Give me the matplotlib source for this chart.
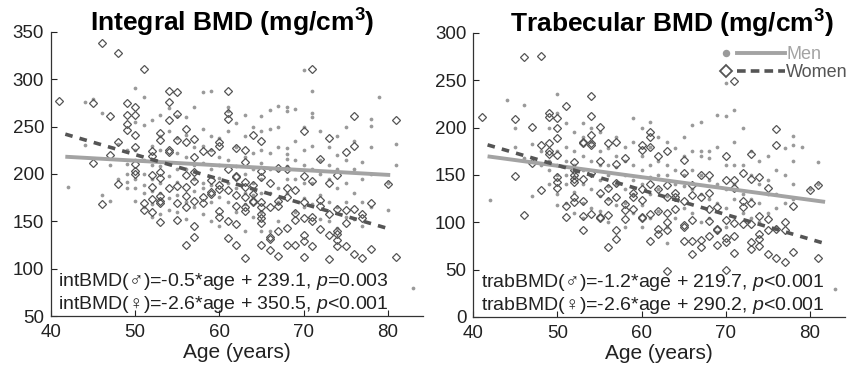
import matplotlib
matplotlib.use("Agg")
import matplotlib.pyplot as plt
from matplotlib.legend_handler import HandlerBase
from matplotlib.lines import Line2D
import numpy as np

# ---- data (age -> BMD values) ----
men_int = {42: [186], 44: [276, 231], 45: [279], 46: [264, 178], 47: [210, 172], 48: [232, 195],
           49: [211, 200, 192, 185, 225], 50: [291, 255, 225, 215, 195, 185, 172],
           51: [281, 252, 215, 200, 188, 180, 165], 52: [257, 230, 210, 195, 182, 168, 155],
           53: [262, 240, 225, 208, 190, 180, 158], 54: [270, 245, 212, 198, 175, 162],
           55: [261, 238, 222, 205, 192, 178, 160], 56: [260, 241, 218, 205, 170, 152],
           57: [271, 228, 210, 195, 182, 165], 58: [287, 248, 230, 212, 190, 185, 158],
           59: [288, 240, 225, 205, 188, 170, 150], 60: [238, 218, 210, 196, 176, 145],
           61: [267, 271, 245, 215, 190, 170], 62: [254, 228, 208, 185, 160],
           63: [262, 240, 218, 200, 180, 168, 140], 64: [250, 222, 205, 190, 178, 155],
           65: [261, 245, 225, 212, 195, 180, 160, 140], 66: [268, 248, 222, 205, 180, 140],
           67: [272, 250, 228, 205, 185, 170, 150], 68: [271, 267, 227, 221, 216, 208, 195, 180],
           69: [269, 235, 215, 195, 160], 70: [310, 250, 225, 210, 190, 175, 165],
           71: [288, 264, 260, 230, 205, 190, 168], 72: [245, 215, 200, 178, 152],
           73: [228, 210, 195, 170, 150], 74: [240, 220, 205, 185, 165, 143],
           75: [250, 215, 190, 170, 155], 76: [235, 205, 180, 152], 77: [213, 195, 170, 145],
           78: [258, 251, 228, 200, 165], 79: [281], 80: [190, 162], 81: [232, 210], 83: [80]}

women_int = {41: [277], 45: [275, 212], 46: [338, 168], 47: [261, 220], 48: [328, 234, 189],
             49: [275, 262, 253, 247], 50: [271, 262, 241, 228, 211, 203, 200], 51: [311, 169, 162],
             52: [224, 219, 199, 186, 174, 160], 53: [243, 236, 202, 196, 177, 172, 169, 149],
             54: [288, 276, 257, 225, 223, 185], 55: [287, 263, 236, 187, 169, 151],
             56: [248, 234, 199, 186, 177, 165, 125], 57: [237, 218, 202, 193, 172, 145, 133],
             58: [224, 176, 169], 59: [223, 194, 181, 179], 60: [234, 230, 188, 184, 161, 155],
             61: [288, 264, 258, 205, 183, 150, 132], 62: [227, 198, 197, 178, 166, 147, 125],
             63: [225, 213, 192, 186, 176, 165, 161, 111], 64: [241, 188, 179, 172, 170],
             65: [235, 203, 197, 170, 165, 158, 153, 148, 125], 66: [190, 165, 133, 131, 120],
             67: [206, 172, 166, 140, 113], 68: [205, 185, 176, 143, 125], 69: [183, 159, 151, 125],
             70: [245, 198, 170, 153, 136, 129, 112], 71: [311, 193, 155, 150, 124],
             72: [216, 173, 166, 142], 73: [238, 190, 158, 136, 110],
             74: [199, 163, 140, 137, 130, 124], 75: [223, 162, 148, 124], 76: [261, 230, 163, 115],
             77: [158, 153, 111], 78: [169, 121], 80: [189], 81: [257, 112]}

men_trab = {42: [124], 44: [229], 45: [200, 180], 46: [224, 168], 47: [183, 128], 48: [175, 160],
            49: [200, 165, 155, 140], 50: [236, 215, 175, 160, 150, 130, 118],
            51: [205, 180, 165, 150, 140, 120], 52: [195, 175, 160, 148, 132, 110],
            53: [205, 190, 170, 155, 140, 120, 105], 54: [200, 185, 165, 150, 135, 115],
            55: [195, 175, 160, 145, 128, 112], 56: [178, 160, 150, 138, 125, 100],
            57: [190, 170, 158, 140, 118], 58: [180, 165, 150, 135, 120, 95],
            59: [210, 185, 160, 145, 130, 110], 60: [200, 170, 155, 140, 118, 95],
            61: [206, 180, 160, 148, 130, 105], 62: [190, 165, 150, 135, 112],
            63: [185, 160, 150, 128, 95, 78], 64: [178, 155, 140, 125, 105],
            65: [190, 170, 150, 138, 115], 66: [203, 175, 155, 135, 110],
            67: [206, 175, 170, 150, 130, 100], 68: [175, 168, 145, 125, 105],
            69: [213, 180, 140, 120, 90], 70: [247, 212, 160, 135, 115, 95],
            71: [219, 185, 160, 140, 125], 72: [200, 160, 130, 110], 73: [175, 150, 125, 105],
            74: [165, 140, 120, 100], 75: [170, 145, 130, 110], 76: [155, 130, 115, 95],
            77: [178, 150, 120], 78: [191, 182, 165, 140, 125], 79: [180], 80: [135],
            81: [164, 140], 83: [30]}

women_trab = {41: [211], 45: [209, 149], 46: [275, 108], 47: [201, 163], 48: [276, 182, 134],
              49: [215, 211, 184, 175, 172], 50: [210, 200, 189, 171, 148, 143, 136],
              51: [223, 117, 106], 52: [164, 155, 150, 146, 143, 127, 121],
              53: [185, 184, 146, 122, 107, 92], 54: [233, 212, 192, 184, 182, 152, 109],
              55: [201, 165, 131, 106, 104], 56: [184, 136, 122, 108, 74],
              57: [185, 162, 141, 127, 92, 82], 58: [168, 119, 113, 103], 59: [131, 127, 114],
              60: [182, 176, 135, 124, 106, 104], 61: [195, 190, 180, 140, 109, 80],
              62: [170, 135, 112, 93, 88], 63: [175, 139, 127, 110, 100, 92, 49],
              64: [131, 127, 114], 65: [166, 152, 122, 97, 95, 80], 66: [139, 129, 102, 80, 66],
              67: [150, 127, 81, 74], 68: [150, 131, 114, 101, 85], 69: [116, 93, 92, 76],
              70: [170, 145, 102, 83, 79, 50], 71: [249, 145, 136, 99, 85, 68],
              72: [152, 122, 116, 98], 73: [172, 146, 120, 98, 79, 72],
              74: [148, 107, 88, 82, 75], 75: [136, 103, 92, 66], 76: [199, 182, 93, 62],
              77: [100, 92, 58], 78: [117, 69], 80: [134], 81: [139, 62]}

# regression coefficients (slope, intercept) from the figure text, and the age span of each fit line
fit_int = {"men": (-0.5, 239.1), "women": (-2.6, 350.5)}
fit_trab = {"men": (-1.2, 219.7), "women": (-2.6, 290.2)}
p_int = {"men": "=0.003", "women": "<0.001"}
p_trab = {"men": "<0.001", "women": "<0.001"}
fit_span_int = [41.7, 80.3]
fit_span_trab = [41.7, 81.8]

MEN_C = "#a3a3a3"
WOMEN_C = "#555555"

plt.rcParams["font.family"] = ["Liberation Sans", "DejaVu Sans"]
plt.rcParams["mathtext.fontset"] = "custom"
plt.rcParams["mathtext.rm"] = "Liberation Sans"
plt.rcParams["mathtext.it"] = "Liberation Sans:italic"
plt.rcParams["mathtext.bf"] = "Liberation Sans:bold"


def flatten(d):
    xs, ys = [], []
    for age, vals in d.items():
        xs += [age] * len(vals)
        ys += vals
    return np.array(xs, float), np.array(ys, float)


class MarkerThenLine(HandlerBase):
    # legend entry: marker on the left, then a short line segment
    def create_artists(self, legend, orig_handle, xdescent, ydescent, width, height, fontsize, trans):
        mk, ln = orig_handle
        y = height / 2 - ydescent
        m = Line2D([-xdescent + 4], [y], linestyle="none", marker=mk.get_marker(),
                   markersize=mk.get_markersize() * 1.5, markerfacecolor=mk.get_markerfacecolor(),
                   markeredgecolor=mk.get_markeredgecolor(), markeredgewidth=1.3)
        l = Line2D([-xdescent + 12, -xdescent + width], [y, y], color=ln.get_color(),
                   linewidth=ln.get_linewidth(), linestyle=ln.get_linestyle())
        if ln.get_linestyle() == "--":
            l.set_dashes((2.4, 1.4))
        for a in (m, l):
            a.set_transform(trans)
        return [m, l]


def panel(ax, men, women, fit, pvals, span, ylim, yticks, title, title_x, label, legend=False):
    mx, my = flatten(men)
    wx, wy = flatten(women)
    hm, = ax.plot(mx, my, linestyle="none", marker="o", markersize=2.7, color="#9a9a9a",
                  markeredgewidth=0)
    hw, = ax.plot(wx, wy, linestyle="none", marker="D", markersize=4.2, markerfacecolor="none",
                  markeredgecolor=WOMEN_C, markeredgewidth=0.9)
    ages = np.array(span)
    lm, = ax.plot(ages, fit["men"][0] * ages + fit["men"][1], color=MEN_C, linewidth=2.8,
                  solid_capstyle="butt")
    lw, = ax.plot(ages, fit["women"][0] * ages + fit["women"][1], color=WOMEN_C, linewidth=2.6,
                  linestyle="--", dashes=(2.1, 2.0))

    ax.set_xlim(40, 84.2)
    ax.set_ylim(*ylim)
    ax.set_xticks([40, 50, 60, 70, 80])
    ax.set_yticks(yticks)
    ax.tick_params(direction="in", length=4, width=0.8, labelsize=13.5, colors="#222222")
    ax.tick_params(axis="x", pad=6)
    ax.tick_params(axis="y", pad=5)
    for s in ("top", "right"):
        ax.spines[s].set_visible(False)
    for s in ("left", "bottom"):
        ax.spines[s].set_color("#333333")
        ax.spines[s].set_linewidth(0.9)
    ax.set_xlabel("Age (years)", fontsize=15, labelpad=1.5, color="#222222")
    ax.text(title_x, 1.0, title, transform=ax.transAxes, fontsize=19, fontweight="bold",
            ha="center", va="baseline")

    rows = [("\u2642", "men", 0.105), ("\u2640", "women", 0.025)]
    for sym, key, ypos in rows:
        s, b = fit[key]
        ax.text(0.02, ypos, "%s(%s)=%.1f*age + %.1f, $p$%s" % (label, sym, s, b, pvals[key]),
                transform=ax.transAxes, fontsize=14, va="baseline", color="#222222")

    if legend:
        leg = ax.legend([(hm, lm), (hw, lw)], ["Men", "Women"],
                        handler_map={tuple: MarkerThenLine()}, loc="upper left",
                        bbox_to_anchor=(0.64, 0.985), frameon=False, fontsize=13,
                        handlelength=3.6, handletextpad=0.05, borderpad=0, labelspacing=0.05)
        leg.get_texts()[0].set_color(MEN_C)
        leg.get_texts()[1].set_color(WOMEN_C)


fig = plt.figure(figsize=(8.6, 3.66), dpi=100)
ax1 = fig.add_axes([0.0593, 0.1366, 0.4326, 0.776])
ax2 = fig.add_axes([0.5503, 0.134, 0.4326, 0.776])

panel(ax1, men_int, women_int, fit_int, p_int, fit_span_int, (50, 350),
      [50, 100, 150, 200, 250, 300, 350], "Integral BMD (mg/cm$^\\mathbf{3}$)", 0.487, "intBMD")
panel(ax2, men_trab, women_trab, fit_trab, p_trab, fit_span_trab, (0, 300),
      [0, 50, 100, 150, 200, 250, 300], "Trabecular BMD (mg/cm$^\\mathbf{3}$)", 0.535, "trabBMD",
      legend=True)

fig.savefig("out.png", dpi=100)
